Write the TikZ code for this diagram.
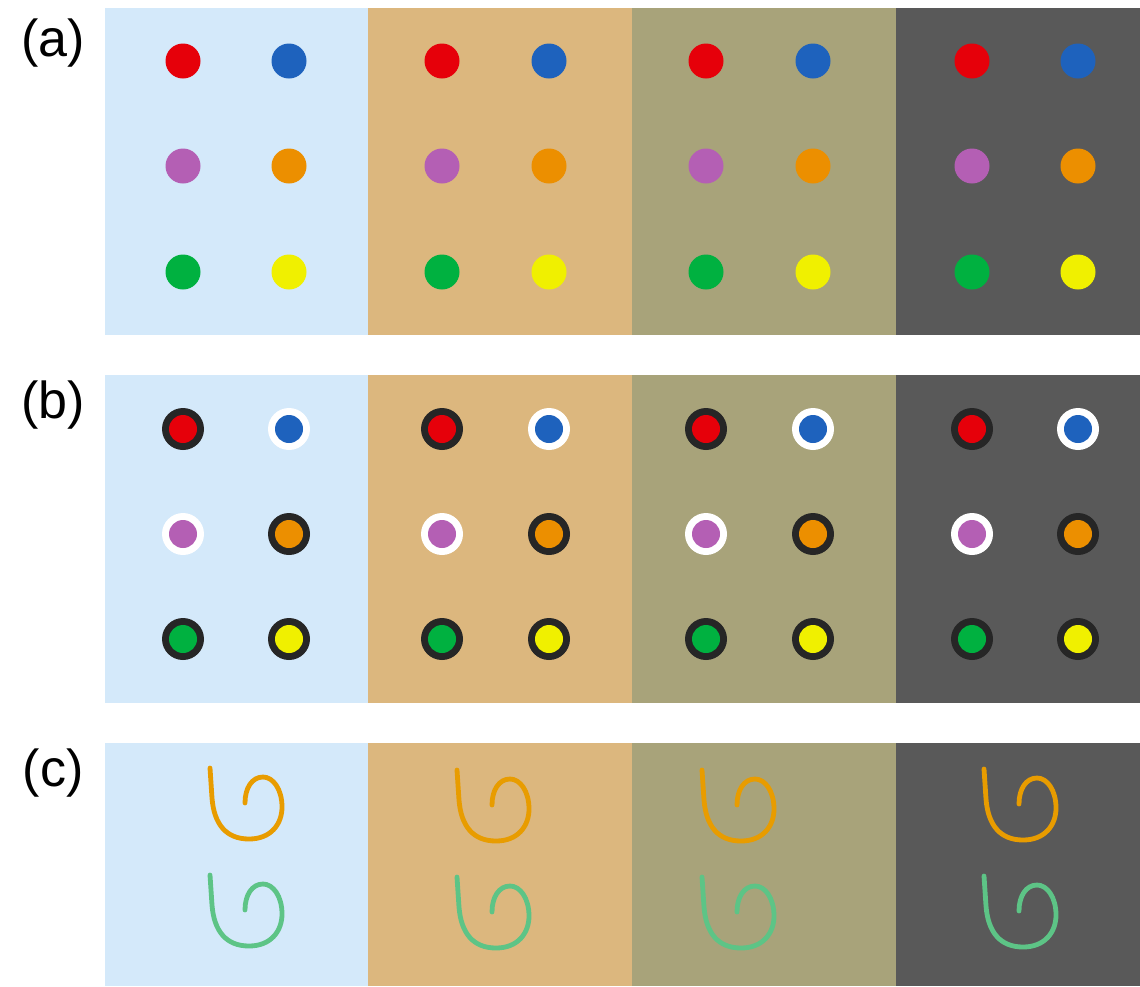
\documentclass[tikz,border=0pt]{standalone}
\usepackage{fontspec}
\setmainfont{Liberation Sans}
\definecolor{fundoazul}{HTML}{D4E9FA}
\definecolor{fundobege}{HTML}{DCB77E}
\definecolor{fundooliva}{HTML}{A8A37A}
\definecolor{fundocinza}{HTML}{595959}
\definecolor{vermelho}{HTML}{E6000A}
\definecolor{azulponto}{HTML}{1E62BD}
\definecolor{roxo}{HTML}{B45FB4}
\definecolor{laranja}{HTML}{EC8F00}
\definecolor{verde}{HTML}{00B140}
\definecolor{amarelo}{HTML}{F0F000}
\definecolor{anelescuro}{HTML}{262626}
\definecolor{laranjaesp}{HTML}{E89C00}
\definecolor{verdeesp}{HTML}{5DC486}

\begin{document}
\begin{tikzpicture}[
    x=0.5pt, y=-0.5pt,
    rotulo/.style={font=\fontsize{26}{30}\selectfont, anchor=center, inner sep=0pt},
    traco/.style={line width=2.4pt, line cap=round},
    espiral/.pic={
        \draw[pic actions] (0,0) -- (2,30)
            .. controls (4,56) and (16,71) .. (39,71)
            .. controls (61,71) and (72,56) .. (72,39)
            .. controls (72,21) and (63,9) .. (53,9)
            .. controls (42,9) and (35,20) .. (35,35);
    }
]
\useasboundingbox (0,0) rectangle (1140,986);

% fundos das tres faixas
\foreach \xa/\xb/\cor in {105/368/fundoazul, 368/632/fundobege, 632/896/fundooliva, 896/1140/fundocinza} {
    \foreach \ya/\yb in {8/335, 375/703, 743/986}
        \fill[\cor] (\xa,\ya) rectangle (\xb,\yb);
}

% rotulos
\node[rotulo] (rota) at (53,43) {(a)};
\node[rotulo] (rotb) at (53,405) {(b)};
\node[rotulo] (rotc) at (53,773) {(c)};

% (a) pontos simples
\foreach \xe/\xd in {183/289, 442/549, 706/813, 972/1078} {
    \fill[vermelho] (\xe,61) circle[radius=8.75pt];
    \fill[azulponto] (\xd,61) circle[radius=8.75pt];
    \fill[roxo] (\xe,166) circle[radius=8.75pt];
    \fill[laranja] (\xd,166) circle[radius=8.75pt];
    \fill[verde] (\xe,272) circle[radius=8.75pt];
    \fill[amarelo] (\xd,272) circle[radius=8.75pt];
}

% (b) pontos com anel
\foreach \xe/\xd in {183/289, 442/549, 706/813, 972/1078} {
    \foreach \px/\py/\anel/\cor in {\xe/429/anelescuro/vermelho, \xd/429/white/azulponto,
                                   \xe/534/white/roxo, \xd/534/anelescuro/laranja,
                                   \xe/639/anelescuro/verde, \xd/639/anelescuro/amarelo} {
        \fill[\anel] (\px,\py) circle[radius=10.5pt];
        \fill[\cor] (\px,\py) circle[radius=7pt];
    }
}

% (c) espirais
\foreach \xs/\ys in {210/768, 457/770, 702/770, 984/769} {
    \pic[draw=laranjaesp, traco] at (\xs,\ys) {espiral};
    \pic[draw=verdeesp, traco] at (\xs,\ys+107) {espiral};
}
\end{tikzpicture}
\end{document}
